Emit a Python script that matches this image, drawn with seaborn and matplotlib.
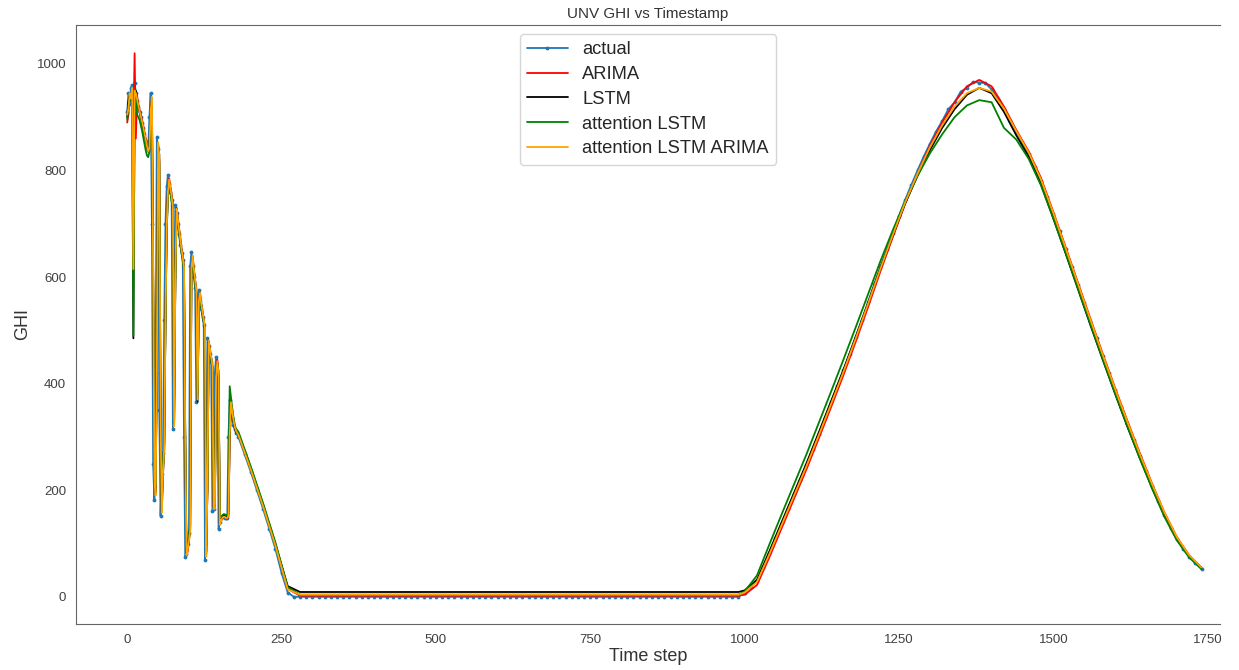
import numpy as np
import pandas as pd
import matplotlib
matplotlib.use("Agg")
import matplotlib.pyplot as plt
import seaborn as sns

# time steps: dense for the cloudy morning, coarser for the smooth part
t_noisy = list(range(0, 178, 2))
t_actual_smooth = list(range(180, 1750, 10))
t_model_smooth = [180, 200, 220, 240, 260, 280, 990] + list(range(1000, 1760, 20))

actual_noisy = [910, 945, 925, 955, 960, 945, 965, 945, 930, 920, 910, 900, 890, 880, 868, 855, 842, 838,
                900, 945, 700, 250, 182, 420, 862, 840, 350, 152, 230, 270, 520, 700, 770, 792, 775, 760,
                745, 315, 600, 735, 720, 700, 680, 660, 645, 632, 300, 75, 80, 100, 120, 620, 647, 620,
                600, 580, 366, 560, 575, 555, 540, 525, 510, 69, 200, 485, 470, 455, 440, 161, 165, 420,
                450, 425, 127, 140, 148, 150, 150, 148, 147, 148, 300, 370, 350, 335, 322, 315, 308]
arima_noisy = [890, 905, 940, 930, 950, 870, 1020, 860, 940, 925, 915, 905, 895, 885, 872, 860, 848, 835,
               840, 920, 930, 640, 240, 200, 440, 845, 820, 330, 170, 240, 290, 530, 700, 765, 785, 770,
               755, 735, 330, 610, 730, 712, 692, 675, 655, 640, 620, 290, 78, 85, 105, 125, 615, 640,
               615, 595, 575, 380, 555, 570, 550, 535, 520, 505, 80, 210, 480, 465, 450, 435, 170, 168,
               415, 445, 420, 135, 142, 148, 150, 150, 148, 147, 150, 295, 365, 348, 333, 320, 313]
lstm_noisy = [900, 930, 940, 935, 950, 485, 930, 950, 935, 920, 910, 900, 890, 880, 868, 856, 845, 838,
              845, 905, 935, 600, 260, 195, 420, 850, 830, 345, 160, 230, 275, 515, 690, 760, 780, 765,
              750, 730, 325, 600, 725, 708, 688, 668, 650, 636, 615, 300, 82, 90, 108, 130, 610, 635,
              612, 592, 572, 366, 550, 565, 548, 532, 518, 503, 85, 205, 478, 462, 448, 432, 168, 170,
              410, 440, 415, 140, 145, 150, 152, 152, 150, 150, 155, 290, 360, 345, 330, 318, 310]
att_noisy = [895, 920, 935, 930, 945, 490, 920, 940, 905, 900, 895, 885, 875, 862, 850, 838, 828, 825,
             835, 900, 925, 610, 280, 210, 430, 840, 815, 360, 175, 245, 285, 520, 685, 750, 772, 758,
             742, 722, 330, 595, 720, 702, 684, 664, 646, 630, 610, 310, 95, 100, 115, 135, 605, 630,
             606, 588, 568, 375, 545, 560, 545, 530, 515, 500, 95, 215, 475, 460, 445, 430, 180, 175,
             405, 435, 410, 150, 150, 153, 155, 155, 153, 152, 160, 395, 375, 355, 338, 325, 315]
att_arima_noisy = [905, 915, 945, 935, 955, 615, 950, 945, 935, 922, 912, 902, 892, 882, 870, 858, 846, 836,
                   842, 910, 938, 620, 235, 190, 425, 852, 828, 340, 158, 235, 280, 525, 695, 762, 783, 768,
                   752, 732, 320, 605, 728, 710, 690, 672, 652, 638, 618, 295, 78, 88, 105, 125, 615, 640,
                   615, 595, 575, 370, 555, 570, 550, 535, 520, 505, 75, 205, 480, 465, 450, 435, 165, 165,
                   412, 442, 418, 135, 142, 148, 150, 150, 148, 148, 152, 300, 365, 348, 332, 320, 312]

actual_smooth = [300, 268, 235, 200, 165, 128, 90, 45, 8, 0,
                 0, 0, 0, 0, 0, 0, 0, 0, 0, 0, 0, 0, 0, 0, 0, 0, 0, 0, 0, 0, 0, 0, 0, 0, 0, 0,
                 0, 0, 0, 0, 0, 0, 0, 0, 0, 0, 0, 0, 0, 0, 0, 0, 0, 0, 0, 0, 0, 0, 0, 0, 0, 0,
                 0, 0, 0, 0, 0, 0, 0, 0, 0, 0, 0, 0, 0, 0, 0, 0, 0, 0, 0, 0,
                 8, 18, 30, 55, 83, 110, 138, 165, 193, 220, 248, 277, 306, 335, 365, 395, 425, 456,
                 488, 520, 553, 587, 620, 652, 683, 715, 745, 773, 800, 826, 850, 873, 893, 915, 928,
                 948, 955, 966, 965, 964, 952, 935, 915, 893, 872, 852, 830, 806, 780, 750, 718, 686,
                 652, 618, 585, 552, 518, 485, 452, 420, 388, 356, 325, 295, 265, 236, 208, 180, 154,
                 130, 108, 90, 75, 63, 52]
arima_smooth = [308, 243, 173, 100, 15, 2, 2, 4, 22, 74, 129, 184, 239, 297, 356, 416, 479, 544, 611, 675,
                738, 794, 846, 890, 928, 958, 970, 958, 920, 876, 836, 786, 722, 656, 589, 522, 456, 392,
                330, 270, 212, 158, 112, 78, 54]
lstm_smooth = [305, 240, 172, 98, 20, 9, 9, 12, 32, 85, 140, 195, 250, 308, 367, 426, 488, 552, 617, 678,
               738, 790, 838, 880, 915, 942, 955, 945, 910, 866, 826, 774, 710, 644, 577, 510, 445, 381,
               319, 260, 204, 152, 108, 76, 55]
att_smooth = [310, 245, 176, 102, 18, 4, 4, 10, 40, 98, 155, 211, 267, 326, 385, 445, 506, 568, 630, 688,
              742, 790, 832, 868, 900, 922, 932, 928, 880, 858, 822, 772, 710, 645, 578, 512, 446, 382,
              320, 260, 203, 150, 106, 74, 52]
att_arima_smooth = [304, 239, 170, 96, 14, 4, 4, 8, 28, 80, 135, 190, 245, 303, 362, 422, 485, 550, 616, 679,
                    740, 794, 843, 885, 920, 945, 955, 948, 916, 874, 834, 783, 720, 654, 587, 520, 454, 390,
                    328, 268, 211, 158, 112, 78, 55]

t_actual = t_noisy + t_actual_smooth
t_model = t_noisy + t_model_smooth

sns.set_style("white")
plt.rcParams['font.family'] = ['Liberation Sans', 'DejaVu Sans']

fig, ax = plt.subplots(figsize=(12.39, 6.70), dpi=100)
fig.subplots_adjust(left=0.0613, right=0.9847, top=0.9627, bottom=0.0687)

lw = 1.3
sns.lineplot(x=t_actual, y=actual_noisy + actual_smooth, ax=ax, color='#1f77b4', marker='.',
             markersize=5.5, markeredgewidth=0, linewidth=lw, label='actual')
sns.lineplot(x=t_model, y=arima_noisy + arima_smooth, ax=ax, color='red', linewidth=lw, label='ARIMA')
sns.lineplot(x=t_model, y=lstm_noisy + lstm_smooth, ax=ax, color='black', linewidth=lw, label='LSTM')
sns.lineplot(x=t_model, y=att_noisy + att_smooth, ax=ax, color='green', linewidth=lw, label='attention LSTM')
sns.lineplot(x=t_model, y=att_arima_noisy + att_arima_smooth, ax=ax, color='orange', linewidth=lw,
             label='attention LSTM ARIMA')

ax.set_xlim(-83, 1770)
ax.set_ylim(-51, 1073)
ax.set_xticks([0, 250, 500, 750, 1000, 1250, 1500, 1750])
ax.set_yticks([0, 200, 400, 600, 800, 1000])
ax.tick_params(labelsize=9.5, colors='.25')
ax.spines['right'].set_visible(False)
for s in ['top', 'left', 'bottom']:
    ax.spines[s].set_color('0.4')

ax.set_title('UNV GHI vs Timestamp', fontsize=11, color='.2', pad=5)
ax.set_xlabel('Time step', fontsize=13, color='.2', labelpad=2)
ax.set_ylabel('GHI', fontsize=13, color='.2')
ax.legend(loc='upper center', fontsize=13.2, labelspacing=0.42, handlelength=2.2)

plt.savefig('out.png', dpi=100)
